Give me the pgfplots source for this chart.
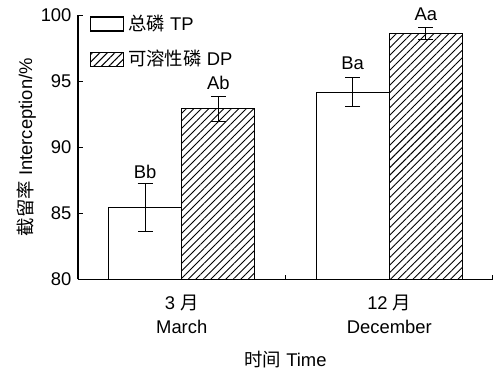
\documentclass[border=0pt]{standalone}
\usepackage{pgfplots}
\pgfplotsset{compat=1.18}
\usepackage{fontspec}
\setmainfont{Liberation Sans}
\newfontfamily\cjk{Noto Sans CJK SC}
\usetikzlibrary{patterns.meta}
\begin{document}
\begin{tikzpicture}
\fontsize{9.2pt}{10.5pt}\selectfont
\begin{axis}[
  name=ax,
  scale only axis,
  clip=false,
  width=207.5pt, height=132.25pt,
  xmin=0, xmax=2, ymin=80, ymax=100,
  axis lines=left,
  axis line style={-, line width=0.6pt},
  ybar=0pt, bar width=0.352,
  xtick={0.5,1.5},
  xticklabels={{3 {\cjk 月}\\March},{12 {\cjk 月}\\December}},
  xticklabel style={align=center, font=\fontsize{9.2pt}{12pt}\selectfont, yshift=-4.5pt},
  major x tick style={draw=none},
  minor xtick={1,2},
  minor tick length=2.2pt,
  major tick length=2.5pt,
  ytick={80,85,90,95,100},
  yticklabel style={font=\fontsize{9.2pt}{10pt}\selectfont},
  tick align=inside,
  tick style={line width=0.5pt, black},
  /pgf/number format/assume math mode=true,
  xlabel={{\cjk 时间} Time},
  ylabel={{\cjk 截留率} Interception/\%},
  label style={font=\fontsize{9.2pt}{10pt}\selectfont},
  xlabel style={at={(0.5,0)}, anchor=north, yshift=-32.5pt},
  ylabel style={at={(axis description cs:-0.125,0.5)}, anchor=center},
  legend style={draw=none, fill=none, at={(0.023,1.025)}, anchor=north west,
    font=\fontsize{9.2pt}{10pt}\selectfont, row sep=4.5pt, inner sep=1pt},
  legend cell align=left,
  legend image code/.code={\draw[#1, line width=0.6pt] (0pt,-3.5pt) rectangle (16.5pt,3.5pt);},
  every axis plot/.append style={line width=0.5pt},
  error bars/error bar style={line width=0.5pt, black},
  error bars/error mark options={rotate=90, mark size=3.75pt, line width=0.5pt, black},
]
\addplot[draw=black, fill=white, error bars/.cd, y dir=both, y explicit]
  coordinates {(0.5,85.46) +- (0,1.83) (1.5,94.16) +- (0,1.1)};
\addlegendentry{{\cjk 总磷} TP}
\addplot[draw=black, pattern={Lines[angle=45, distance=2.65pt, line width=0.45pt]}, error bars/.cd, y dir=both, y explicit]
  coordinates {(0.5,92.92) +- (0,0.95) (1.5,98.57) +- (0,0.45)};
\addlegendentry{{\cjk 可溶性磷} DP}
\node[anchor=base, inner sep=0pt] at (axis cs:0.324,87.65) {Bb};
\node[anchor=base, inner sep=0pt] at (axis cs:0.676,94.33) {Ab};
\node[anchor=base, inner sep=0pt] at (axis cs:1.324,95.9) {Ba};
\node[anchor=base, inner sep=0pt] at (axis cs:1.676,99.55) {Aa};
\end{axis}
\pgfresetboundingbox
\path (ax.south west) ++(-39pt,-45.25pt) rectangle ++(250pt,185pt);
\end{tikzpicture}
\end{document}
